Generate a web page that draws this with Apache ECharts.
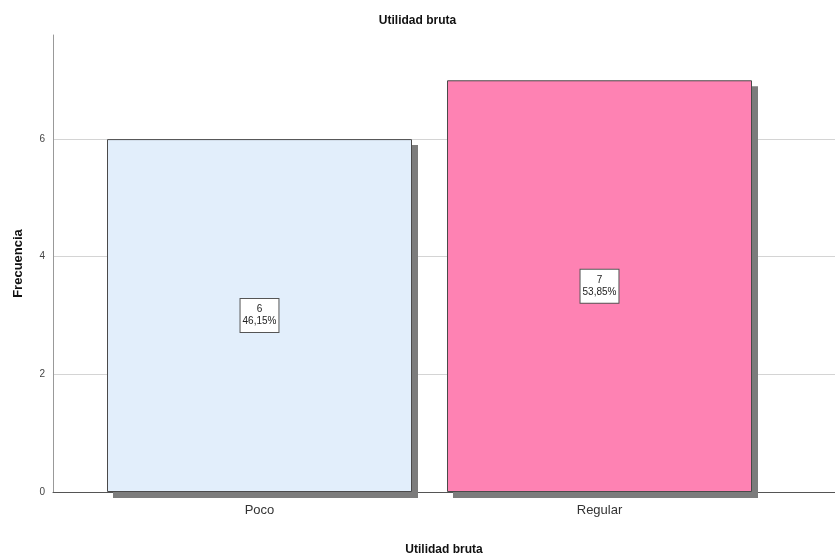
<!DOCTYPE html>
<html>
<head>
<meta charset="utf-8">
<script src="https://cdn.jsdelivr.net/npm/echarts@6/dist/echarts.min.js"></script>
<style>
  html, body { margin: 0; padding: 0; background: #fff; }
  #chart { width: 835px; height: 554px; }
</style>
</head>
<body>
<div id="chart"></div>
<script>
var categories = ['Poco', 'Regular'];
var counts = [6, 7];
var percents = ['46,15%', '53,85%'];
var barColors = ['#e2eefb', '#fe82b3'];
var yTicks = [0, 2, 4, 6];

var yMax = 7.77;
var chart = echarts.init(document.getElementById('chart'));

function hiddenCat(grid) {
    return { gridIndex: grid, type: 'category', data: categories, show: false };
}
function hiddenVal(grid) {
    return { gridIndex: grid, type: 'value', min: 0, max: yMax, show: false };
}

chart.setOption({
    animation: false,
    textStyle: { fontFamily: 'Liberation Sans, Arial, sans-serif' },
    title: {
        text: 'Utilidad bruta',
        left: 'center',
        top: 10,
        textStyle: { fontSize: 12, fontWeight: 'bold', color: '#111' }
    },
    grid: [
        { left: 53, right: 0, top: 35, bottom: 62, outerBoundsMode: 'none' },
        { left: 89.5, width: 680, top: 35, bottom: 62, outerBoundsMode: 'none' },
        // shadow layer, shifted 6px right and down
        { left: 95.5, width: 680, top: 41, bottom: 56, outerBoundsMode: 'none' }
    ],
    xAxis: [
        {
            gridIndex: 0,
            type: 'category',
            data: categories,
            axisLine: { lineStyle: { color: '#555', width: 1 } },
            axisTick: { show: false },
            axisLabel: { show: false },
            name: 'Utilidad bruta',
            nameLocation: 'middle',
            nameGap: 52,
            nameTextStyle: { fontSize: 12, fontWeight: 'bold', color: '#111' }
        },
        {
            gridIndex: 1,
            type: 'category',
            data: categories,
            axisLine: { show: false },
            axisTick: { show: false },
            axisLabel: { fontSize: 13, color: '#333', margin: 12 }
        },
        hiddenCat(2)
    ],
    yAxis: [
        {
            gridIndex: 0,
            type: 'value',
            min: 0,
            max: yMax,
            interval: 2,
            axisLine: { show: true, lineStyle: { color: '#999', width: 1 } },
            axisTick: { show: false },
            axisLabel: {
                fontSize: 10,
                color: '#444',
                margin: 8,
                showMaxLabel: false,
                formatter: function (v) { return yTicks.indexOf(v) >= 0 ? String(v) : ''; }
            },
            splitLine: { show: true, showMaxLine: false, lineStyle: { color: '#d4d4d4', width: 1 } },
            name: 'Frecuencia',
            nameLocation: 'middle',
            nameGap: 28,
            nameRotate: 90,
            nameTextStyle: { fontSize: 13, fontWeight: 'bold', color: '#111' }
        },
        hiddenVal(1),
        hiddenVal(2)
    ],
    series: [
        {
            type: 'bar',
            xAxisIndex: 2,
            yAxisIndex: 2,
            barWidth: 305,
            clip: false,
            silent: true,
            z: 1,
            data: counts,
            itemStyle: { color: '#7c7c7c' }
        },
        {
            type: 'bar',
            xAxisIndex: 1,
            yAxisIndex: 1,
            barWidth: 305,
            clip: false,
            z: 2,
            data: counts.map(function (c, i) {
                return { value: c, itemStyle: { color: barColors[i] } };
            }),
            itemStyle: { borderColor: '#4a4a4a', borderWidth: 1 },
            label: {
                show: true,
                position: 'inside',
                formatter: function (p) { return p.value + '\n' + percents[p.dataIndex]; },
                fontSize: 10,
                lineHeight: 12,
                color: '#222',
                backgroundColor: '#fff',
                borderColor: '#555',
                borderWidth: 1,
                padding: [5, 2, 4, 2],
                align: 'center'
            }
        }
    ]
});
</script>
</body>
</html>
